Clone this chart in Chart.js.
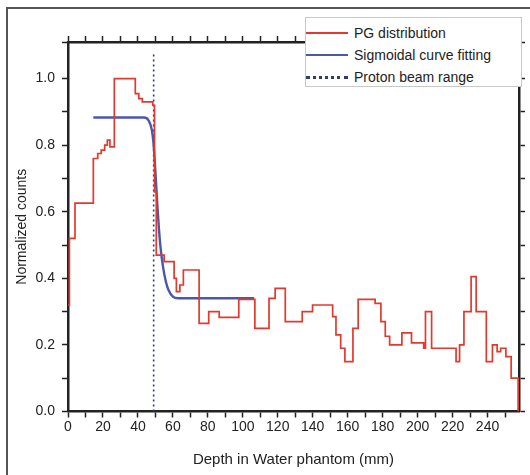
<!DOCTYPE html>
<html lang="en">
<head>
<meta charset="UTF-8">
<title>PG distribution vs depth</title>
<script src="https://cdn.jsdelivr.net/npm/chart.js"></script>
<style>
    body { margin: 0; background: #fff; font-family: "Liberation Sans", Arial, sans-serif; }
    .wrap { position: relative; width: 530px; height: 475px; overflow: hidden; }
    .frame {
        position: absolute; left: 6px; top: 7px; width: 600px; height: 600px;
        border-top: 2px solid #555; border-left: 2px solid #555;
    }
    canvas { position: absolute; left: 0; top: 0; }
    .legend {
        position: absolute; left: 305px; top: 17px; width: 217px; height: 70px;
        background: #fff; border: 1px solid #c8c8c8; box-sizing: border-box;
        padding-top: 4px; font-size: 14px; color: #222;
    }
    .legend .item { display: flex; align-items: center; height: 22px; }
    .legend .swatch { width: 42px; margin-right: 6px; height: 0; }
</style>
</head>
<body>
<div class="wrap">
    <div class="frame"></div>
    <canvas id="chart" width="530" height="475"></canvas>
    <div class="legend" id="legend"></div>
</div>

<script>
// PG histogram: bin start (mm) and normalized counts held until the next bin
const pgDepth = [0, 0.8, 4, 14.5, 17, 19, 21, 22.5, 24, 26.5, 38.5, 40.5, 42.5, 48.5, 49.5, 50.5,
    55, 60.7, 62, 64, 66, 75, 80.5, 86.5, 97.7, 106.9, 115, 118.5, 124.3, 134, 139.9,
    151.4, 153.3, 156, 158.4, 163, 166, 175.7, 179, 181.5, 184, 191, 196.5, 203.5, 204.5,
    208, 222, 224, 226.5, 230.6, 233.5, 239.3, 242.8, 245.5, 247.5, 250.5, 253.5, 257.5];
const pgCounts = [0.32, 0.52, 0.626, 0.76, 0.775, 0.785, 0.80, 0.815, 0.795, 1.0, 0.955, 0.94, 0.93, 0.92, 0.66, 0.47,
    0.45, 0.40, 0.36, 0.38, 0.425, 0.265, 0.30, 0.283, 0.337, 0.25, 0.34, 0.37, 0.27, 0.30, 0.32,
    0.285, 0.23, 0.19, 0.15, 0.25, 0.337, 0.325, 0.27, 0.226, 0.20, 0.236, 0.206, 0.19, 0.30,
    0.19, 0.15, 0.20, 0.30, 0.405, 0.30, 0.15, 0.20, 0.18, 0.19, 0.165, 0.10, 0.0];

// sigmoid fit curve
const fitDepth = [14.5, 43.5, 46, 48, 49, 50, 51, 52, 53, 54.5, 56, 57.5, 60, 63, 106.5];
const fitCounts = [0.883, 0.883, 0.875, 0.845, 0.80, 0.72, 0.63, 0.55, 0.49, 0.43, 0.39, 0.365, 0.345, 0.34, 0.34];

// proton beam range marker
const rangeDepth = [49, 49];
const rangeCounts = [0, 1.08];

const pts = (xs, ys) => xs.map((x, i) => ({ x: x, y: ys[i] }));

const tickFont = { family: 'Liberation Sans', size: 14 };
const axisColor = '#222';

const commonX = {
    type: 'linear', min: 0, max: 258,
    grid: { drawOnChartArea: false, tickLength: 6, tickColor: axisColor, tickWidth: 1.5 },
    border: { color: axisColor, width: 2.5 }
};
const commonY = {
    type: 'linear', min: 0, max: 1.11,
    grid: { drawOnChartArea: false, tickLength: 6, tickColor: axisColor, tickWidth: 1.5 },
    border: { color: axisColor, width: 2.5 }
};

const chart = new Chart(document.getElementById('chart'), {
    type: 'line',
    data: {
        datasets: [
            {
                label: 'PG distribution',
                data: pts(pgDepth, pgCounts),
                // 'before' keeps each value flat until the next x, then steps
                stepped: 'before',
                borderColor: '#e2392f',
                borderWidth: 1.7,
                pointRadius: 0
            },
            {
                label: 'Sigmoidal curve fitting',
                data: pts(fitDepth, fitCounts),
                borderColor: '#4b57ad',
                borderWidth: 2.4,
                cubicInterpolationMode: 'monotone',
                pointRadius: 0
            },
            {
                label: 'Proton beam range',
                data: pts(rangeDepth, rangeCounts),
                borderColor: '#2e3d6b',
                borderWidth: 1.6,
                borderDash: [2, 3],
                pointRadius: 0
            }
        ]
    },
    options: {
        responsive: false,
        animation: false,
        layout: { padding: { left: 0, right: 5, top: 36, bottom: 0 } },
        plugins: { legend: { display: false }, tooltip: { enabled: false } },
        scales: {
            x: Object.assign({}, commonX, {
                position: 'bottom',
                ticks: {
                    stepSize: 10, includeBounds: false, autoSkip: false, maxRotation: 0,
                    padding: 1, color: axisColor, font: tickFont,
                    callback: v => (v % 20 === 0 ? v : '')
                },
                title: {
                    display: true, text: 'Depth in Water phantom (mm)',
                    color: axisColor, font: { family: 'Liberation Sans', size: 15 },
                    padding: { top: 4, bottom: 6 }
                },
                afterFit: s => { s.height = 63.5; }
            }),
            x2: Object.assign({}, commonX, {
                axis: 'x', position: 'top',
                ticks: { display: false, stepSize: 10, includeBounds: false },
                afterFit: s => { s.height = 6; }
            }),
            y: Object.assign({}, commonY, {
                position: 'left',
                ticks: {
                    stepSize: 0.1, padding: 7, color: axisColor, font: tickFont,
                    callback: v => (Math.round(v * 10) % 2 === 0 ? v.toFixed(1) : '')
                },
                title: {
                    display: true, text: 'Normalized counts',
                    color: axisColor, font: { family: 'Liberation Sans', size: 14 },
                    padding: { top: 13.5, bottom: 0 }
                },
                afterFit: s => { s.width = 68; }
            }),
            y2: Object.assign({}, commonY, {
                axis: 'y', position: 'right',
                ticks: { display: false, stepSize: 0.1 },
                afterFit: s => { s.width = 6; }
            })
        }
    }
});

// legend box built from the dataset styles
const legend = document.getElementById('legend');
chart.data.datasets.forEach(ds => {
    const item = document.createElement('div');
    item.className = 'item';
    const sw = document.createElement('span');
    sw.className = 'swatch';
    const style = ds.borderDash ? 'dotted' : 'solid';
    sw.style.borderTop = (ds.borderDash ? 3 : 2) + 'px ' + style + ' ' + ds.borderColor;
    const label = document.createElement('span');
    label.textContent = ds.label;
    item.appendChild(sw);
    item.appendChild(label);
    legend.appendChild(item);
});
</script>
</body>
</html>
